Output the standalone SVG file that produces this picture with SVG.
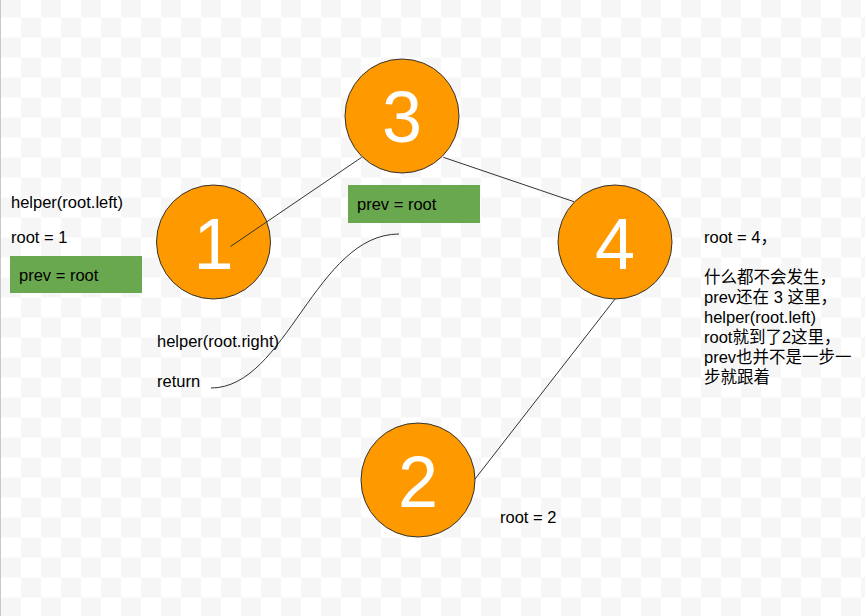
<svg xmlns="http://www.w3.org/2000/svg" width="865" height="616" viewBox="0 0 865 616">
<defs>
<pattern id="checker" x="1" y="-2.5" width="40" height="40" patternUnits="userSpaceOnUse">
<rect x="0" y="0" width="40" height="40" fill="#ffffff"/>
<rect x="0" y="0" width="20" height="20" fill="#f6f6f6"/>
<rect x="20" y="20" width="20" height="20" fill="#f6f6f6"/>
</pattern>
</defs>
<style>
.node circle { fill: #ff9900; stroke: #333333; stroke-width: 1; }
.num { font-family: "Liberation Sans", Arial, sans-serif; font-size: 72px; fill: #ffffff; text-anchor: middle; }
.lbl { font-family: "Liberation Sans", Arial, "Noto Sans CJK SC", sans-serif; font-size: 16.5px; fill: #000000; }
.box { fill: #6aa84f; }
.edge { fill: none; stroke: #333333; stroke-width: 1; }
</style>
<rect x="0" y="0" width="865" height="616" fill="url(#checker)"/>
<line x1="0.5" y1="0" x2="0.5" y2="616" stroke="#c8c8c8" stroke-width="1"/>

<g id="node-3" class="node">
<circle cx="402" cy="116" r="57"/>
<text class="num" x="402" y="142">3</text>
</g>
<g id="node-1" class="node">
<circle cx="213.5" cy="242" r="57"/>
<text class="num" x="213.5" y="269">1</text>
</g>
<g id="node-4" class="node">
<circle cx="615" cy="242" r="57"/>
<text class="num" x="615" y="269">4</text>
</g>
<g id="node-2" class="node">
<circle cx="418" cy="480" r="57"/>
<text class="num" x="418" y="507">2</text>
</g>

<g id="connectors">
<line class="edge" x1="230.5" y1="246.5" x2="361.7" y2="157.3"/>
<line class="edge" x1="443.3" y1="157.3" x2="574" y2="201.7"/>
<line class="edge" x1="615" y1="299" x2="475" y2="479"/>
<path class="edge" d="M211,388 C286,388 316,234 399,234"/>
</g>

<g id="note-left">
<text class="lbl" x="11" y="208">helper(root.left)</text>
<text class="lbl" x="11" y="243">root = 1</text>
</g>
<g id="box-left">
<rect class="box" x="10" y="256" width="132" height="37"/>
<text class="lbl" x="19" y="281">prev = root</text>
</g>
<g id="box-top">
<rect class="box" x="348" y="185" width="132" height="38"/>
<text class="lbl" x="357" y="210">prev = root</text>
</g>
<g id="note-return">
<text class="lbl" x="157" y="347">helper(root.right)</text>
<text class="lbl" x="157" y="387">return</text>
</g>
<g id="note-right">
<text class="lbl" x="704" y="243">root = 4，</text>
<text class="lbl" x="704" y="283">什么都不会发生，</text>
<text class="lbl" x="704" y="303">prev还在 3 这里，</text>
<text class="lbl" x="704" y="323">helper(root.left)</text>
<text class="lbl" x="704" y="343">root就到了2这里，</text>
<text class="lbl" x="704" y="363">prev也并不是一步一</text>
<text class="lbl" x="704" y="383">步就跟着</text>
</g>
<g id="note-2">
<text class="lbl" x="500" y="523">root = 2</text>
</g>
</svg>
